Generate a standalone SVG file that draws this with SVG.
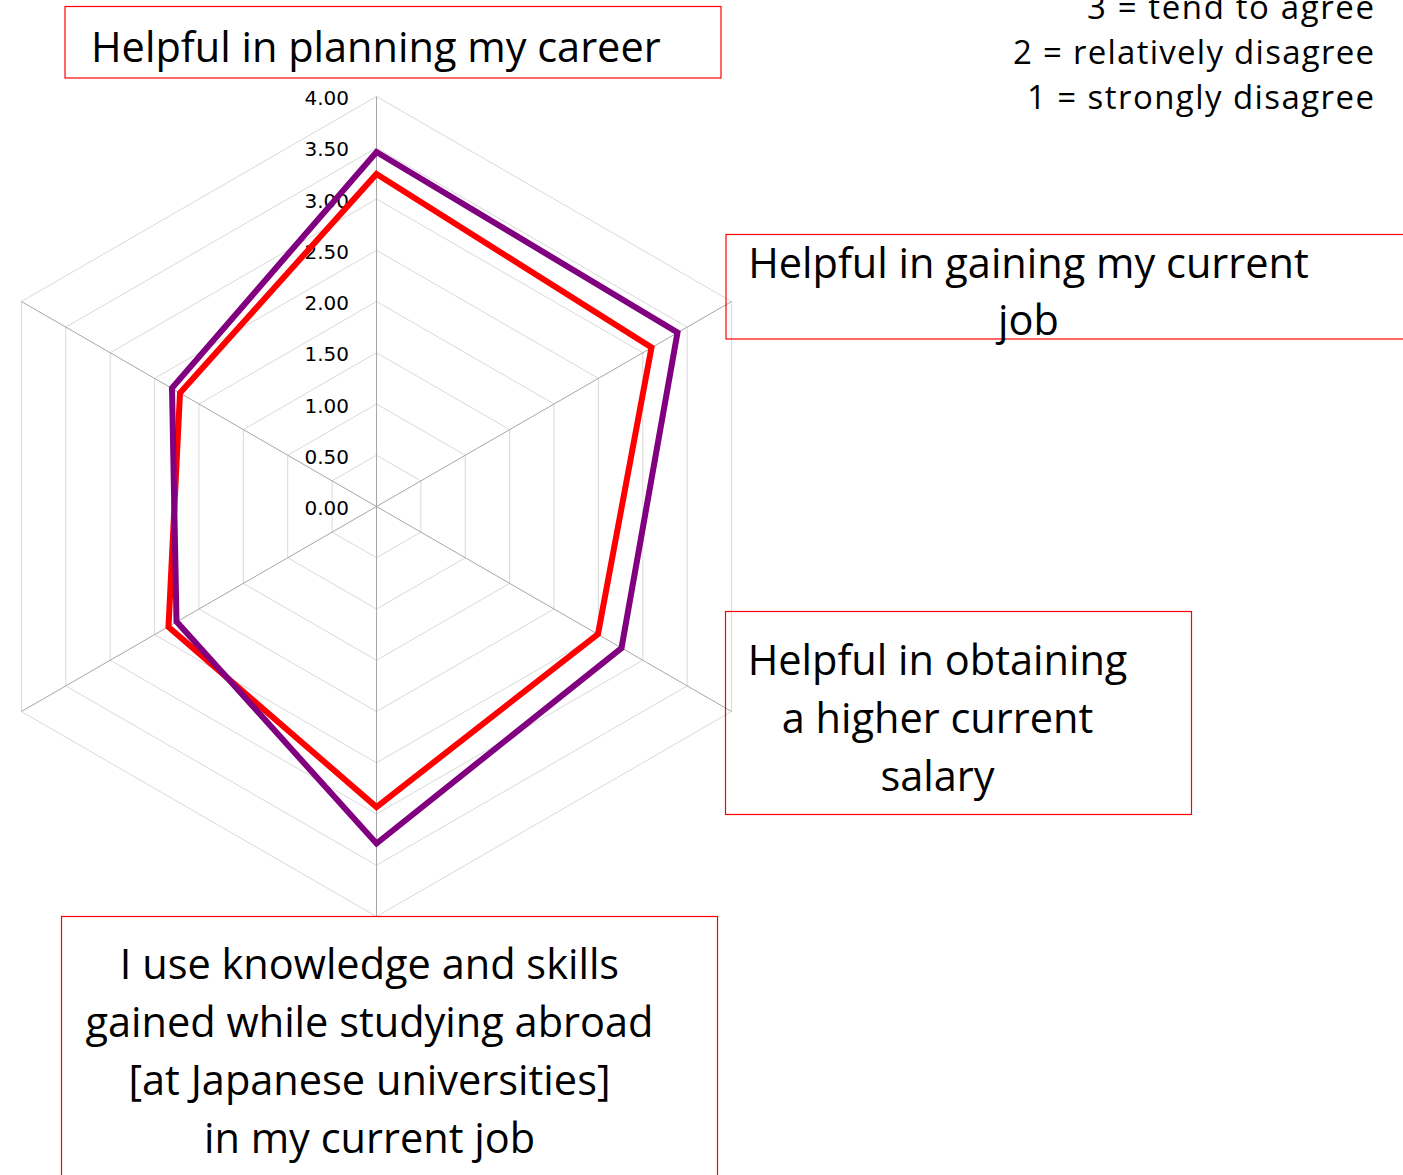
<svg xmlns="http://www.w3.org/2000/svg" width="1403" height="1175" viewBox="0 0 1403 1175">
<style>
.ring{fill:none;stroke:#d9d9d9;stroke-width:1}
.spoke{stroke:#a6a6a6;stroke-width:1}
.tick{font-family:"DejaVu Sans",sans-serif;font-size:20px;fill:#000;text-anchor:end}
.lbl{font-family:"Open Sans","Noto Sans",sans-serif;font-size:41.5px;fill:#000}
.mid{text-anchor:middle}
.legend{font-family:"Open Sans","Noto Sans",sans-serif;font-size:33px;fill:#000;text-anchor:end}
.box{fill:none;stroke:#ff0000;stroke-width:1.2}
.series{fill:none;stroke-width:6;stroke-linejoin:miter}
</style>
<rect width="1403" height="1175" fill="#fff"/>
<g id="grid">
<polygon class="ring" points="376.5,455.25 420.88,480.88 420.88,532.13 376.5,557.75 332.12,532.13 332.12,480.88"/>
<polygon class="ring" points="376.5,404 465.27,455.25 465.27,557.75 376.5,609 287.73,557.75 287.73,455.25"/>
<polygon class="ring" points="376.5,352.75 509.65,429.63 509.65,583.38 376.5,660.25 243.35,583.38 243.35,429.63"/>
<polygon class="ring" points="376.5,301.5 554.04,404 554.04,609 376.5,711.5 198.96,609 198.96,404"/>
<polygon class="ring" points="376.5,250.25 598.42,378.38 598.42,634.63 376.5,762.75 154.58,634.63 154.58,378.38"/>
<polygon class="ring" points="376.5,199 642.8,352.75 642.8,660.25 376.5,814 110.2,660.25 110.2,352.75"/>
<polygon class="ring" points="376.5,147.75 687.19,327.13 687.19,685.88 376.5,865.25 65.81,685.88 65.81,327.13"/>
<polygon class="ring" points="376.5,96.5 731.57,301.5 731.57,711.5 376.5,916.5 21.43,711.5 21.43,301.5"/>
<line class="spoke" x1="376.5" y1="506.5" x2="376.5" y2="96.5"/>
<line class="spoke" x1="376.5" y1="506.5" x2="731.57" y2="301.5"/>
<line class="spoke" x1="376.5" y1="506.5" x2="731.57" y2="711.5"/>
<line class="spoke" x1="376.5" y1="506.5" x2="376.5" y2="916.5"/>
<line class="spoke" x1="376.5" y1="506.5" x2="21.43" y2="711.5"/>
<line class="spoke" x1="376.5" y1="506.5" x2="21.43" y2="301.5"/>
</g>
<g id="ticks">
<text class="tick" x="349" y="515">0.00</text>
<text class="tick" x="349" y="463.75">0.50</text>
<text class="tick" x="349" y="412.5">1.00</text>
<text class="tick" x="349" y="361.25">1.50</text>
<text class="tick" x="349" y="310">2.00</text>
<text class="tick" x="349" y="258.75">2.50</text>
<text class="tick" x="349" y="207.5">3.00</text>
<text class="tick" x="349" y="156.25">3.50</text>
<text class="tick" x="349" y="105">4.00</text>
</g>
<g id="series">
<polygon class="series" stroke="#ff0000" points="376.5,174 651.5,347.5 598,634 376.5,807 168.5,627 180,393"/>
<polygon class="series" stroke="#800080" points="376.5,152 677.5,332.5 621.5,648 376.5,843.5 176.5,621.5 172,388"/>
</g>
<g id="legend">
<text class="legend" x="1374" y="18.5" textLength="287" lengthAdjust="spacing">3 = tend to agree</text>
<text class="legend" x="1374" y="63.5" textLength="361" lengthAdjust="spacing">2 = relatively disagree</text>
<text class="legend" x="1374" y="108.5" textLength="347" lengthAdjust="spacing">1 = strongly disagree</text>
</g>
<g id="label-planning">
<rect class="box" x="65" y="6.5" width="656" height="71.5"/>
<text class="lbl" x="91" y="62">Helpful in planning my career</text>
</g>
<g id="label-gaining">
<rect class="box" x="726" y="234.5" width="690" height="104.5"/>
<text class="lbl mid" x="1028.5" y="278">Helpful in gaining my current</text>
<text class="lbl mid" x="1028.5" y="335">job</text>
</g>
<g id="label-salary">
<rect class="box" x="725.5" y="611.5" width="466" height="203"/>
<text class="lbl mid" x="937.5" y="675">Helpful in obtaining</text>
<text class="lbl mid" x="937.5" y="733">a higher current</text>
<text class="lbl mid" x="937.5" y="791">salary</text>
</g>
<g id="label-skills">
<rect class="box" x="61.5" y="916.5" width="656" height="280"/>
<text class="lbl mid" x="369.5" y="979">I use knowledge and skills</text>
<text class="lbl mid" x="369.5" y="1037">gained while studying abroad</text>
<text class="lbl mid" x="369.5" y="1095">[at Japanese universities]</text>
<text class="lbl mid" x="369.5" y="1153">in my current job</text>
</g>
</svg>
